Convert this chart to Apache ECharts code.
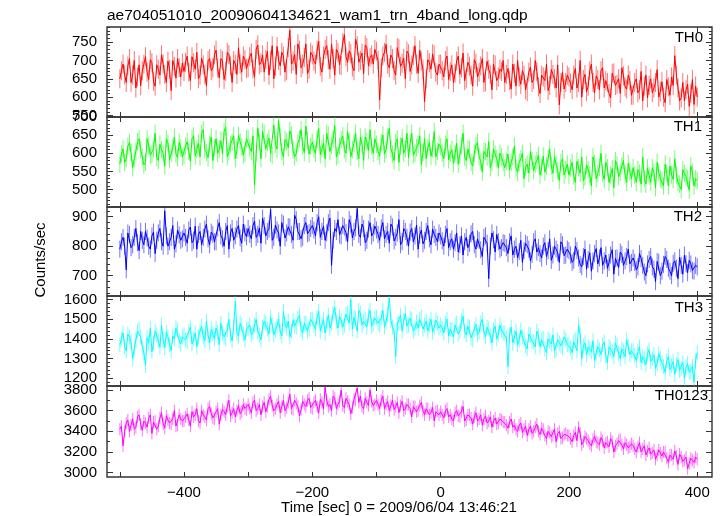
<!DOCTYPE html>
<html><head><meta charset="utf-8">
<script src="https://cdn.jsdelivr.net/npm/echarts@6/dist/echarts.min.js"></script>
<style>html,body{margin:0;padding:0;background:#fff}#c{width:723px;height:516px}</style>
</head><body><div id="c"></div>
<script>
// ---------- data ----------
const times = [
-500,-497.5,-495,-492.5,-490,-487.5,-485,-482.5,-480,-477.5,-475,-472.5,-470,-467.5,-465,-462.5,-460,-457.5,-455,-452.5,
-450,-447.5,-445,-442.5,-440,-437.5,-435,-432.5,-430,-427.5,-425,-422.5,-420,-417.5,-415,-412.5,-410,-407.5,-405,-402.5,
-400,-397.5,-395,-392.5,-390,-387.5,-385,-382.5,-380,-377.5,-375,-372.5,-370,-367.5,-365,-362.5,-360,-357.5,-355,-352.5,
-350,-347.5,-345,-342.5,-340,-337.5,-335,-332.5,-330,-327.5,-325,-322.5,-320,-317.5,-315,-312.5,-310,-307.5,-305,-302.5,
-300,-297.5,-295,-292.5,-290,-287.5,-285,-282.5,-280,-277.5,-275,-272.5,-270,-267.5,-265,-262.5,-260,-257.5,-255,-252.5,
-250,-247.5,-245,-242.5,-240,-237.5,-235,-232.5,-230,-227.5,-225,-222.5,-220,-217.5,-215,-212.5,-210,-207.5,-205,-202.5,
-200,-197.5,-195,-192.5,-190,-187.5,-185,-182.5,-180,-177.5,-175,-172.5,-170,-167.5,-165,-162.5,-160,-157.5,-155,-152.5,
-150,-147.5,-145,-142.5,-140,-137.5,-135,-132.5,-130,-127.5,-125,-122.5,-120,-117.5,-115,-112.5,-110,-107.5,-105,-102.5,
-100,-97.5,-95,-92.5,-90,-87.5,-85,-82.5,-80,-77.5,-75,-72.5,-70,-67.5,-65,-62.5,-60,-57.5,-55,-52.5,
-50,-47.5,-45,-42.5,-40,-37.5,-35,-32.5,-30,-27.5,-25,-22.5,-20,-17.5,-15,-12.5,-10,-7.5,-5,-2.5,
0,2.5,5,7.5,10,12.5,15,17.5,20,22.5,25,27.5,30,32.5,35,37.5,40,42.5,45,47.5,
50,52.5,55,57.5,60,62.5,65,67.5,70,72.5,75,77.5,80,82.5,85,87.5,90,92.5,95,97.5,
100,102.5,105,107.5,110,112.5,115,117.5,120,122.5,125,127.5,130,132.5,135,137.5,140,142.5,145,147.5,
150,152.5,155,157.5,160,162.5,165,167.5,170,172.5,175,177.5,180,182.5,185,187.5,190,192.5,195,197.5,
200,202.5,205,207.5,210,212.5,215,217.5,220,222.5,225,227.5,230,232.5,235,237.5,240,242.5,245,247.5,
250,252.5,255,257.5,260,262.5,265,267.5,270,272.5,275,277.5,280,282.5,285,287.5,290,292.5,295,297.5,
300,302.5,305,307.5,310,312.5,315,317.5,320,322.5,325,327.5,330,332.5,335,337.5,340,342.5,345,347.5,
350,352.5,355,357.5,360,362.5,365,367.5,370,372.5,375,377.5,380,382.5,385,387.5,390,392.5,395,397.5,
400];

const th0 = [
650,672,690,661,640,685,705,640,660,700,625,655,688,631,672,690,710,668,648,702,694,643,630,688,676,660,715,691,662,640,698,676,618,700,684,652,705,680,655,693,
670,695,712,668,645,710,694,676,722,650,660,706,688,662,631,699,705,672,680,715,728,680,652,705,699,648,670,722,716,685,640,700,690,662,735,690,668,712,702,678,
680,710,720,676,655,730,742,688,694,715,668,702,725,660,700,740,650,684,738,700,685,722,712,668,672,735,782,690,698,716,662,745,728,680,690,708,745,664,676,722,
715,698,690,728,752,684,668,712,730,740,702,676,745,705,660,730,722,688,686,748,770,710,695,726,718,682,672,758,740,695,700,720,664,742,735,685,708,715,690,730,
725,700,592,680,712,722,744,690,680,715,705,672,660,735,732,684,692,706,650,725,718,670,688,712,740,690,665,728,698,676,588,650,702,694,676,718,715,668,660,690,
690,672,655,700,712,648,670,688,640,665,698,712,662,680,720,645,650,695,684,660,630,702,692,655,668,685,705,640,642,698,676,662,620,690,688,645,655,676,670,700,
640,662,678,645,622,690,665,630,700,655,635,672,660,620,615,668,682,640,648,700,670,628,610,660,655,645,690,618,632,675,662,650,625,688,579,640,668,622,640,660,
655,638,620,660,678,625,640,700,600,648,662,615,630,672,690,640,612,658,648,620,672,680,625,645,640,610,598,665,666,632,635,650,610,680,658,628,622,660,645,605,
605,640,650,612,620,670,590,630,660,598,632,650,612,625,640,675,600,615,642,600,585,648,628,605,655,632,713,660,625,590,598,640,590,620,635,575,610,648,580,630,
600];

const th1 = [
570,598,612,575,585,620,630,602,560,585,605,632,640,610,590,568,575,640,622,595,598,612,655,588,580,625,610,600,565,640,628,582,600,615,645,598,588,630,615,590,
595,620,632,605,578,640,648,592,610,628,590,655,665,610,602,588,625,645,580,615,640,600,612,635,598,660,672,590,605,625,630,648,585,608,650,632,618,595,600,640,
640,615,605,648,512,600,670,630,585,660,655,612,630,642,600,595,678,625,612,690,645,605,590,638,632,615,662,650,608,590,600,628,640,665,620,602,675,635,598,620,
630,612,600,640,668,596,612,628,585,655,650,605,622,640,676,590,595,620,638,648,610,600,660,632,590,610,628,655,605,585,645,625,580,645,632,608,665,620,600,640,
625,605,592,630,650,598,610,645,668,612,598,580,630,640,575,620,642,600,612,655,588,628,655,595,600,615,625,648,570,602,640,585,615,630,592,612,660,590,605,625,
618,600,585,625,640,582,600,610,572,598,628,570,595,620,655,590,580,612,610,575,565,600,622,630,590,578,548,605,605,590,632,560,575,612,598,585,560,600,590,575,
560,578,598,555,575,590,620,560,548,575,585,600,530,562,570,545,605,580,552,570,580,595,540,560,592,548,565,585,612,565,545,590,570,552,525,575,585,540,555,570,
540,560,575,538,520,578,560,545,590,525,535,568,555,540,510,590,572,530,545,562,600,545,528,575,560,520,540,558,505,580,568,535,548,565,580,540,520,572,550,530,
560,540,520,555,545,515,590,530,515,560,538,520,560,548,505,575,548,530,525,510,570,545,510,565,540,528,585,540,520,515,500,555,545,535,530,498,565,548,510,530,
525];

const th2 = [
790,815,830,800,720,845,840,795,805,830,860,812,785,850,820,805,850,828,800,790,835,848,775,820,845,860,815,800,920,835,800,815,830,870,790,808,855,838,820,825,
845,830,810,855,865,812,820,868,790,840,850,805,830,858,875,825,805,848,840,815,815,862,880,835,825,800,850,870,790,845,860,820,835,858,870,828,810,875,845,832,
860,840,825,870,885,830,840,862,810,895,870,835,850,858,925,820,830,872,855,845,800,880,875,828,845,866,865,840,820,905,890,850,850,825,830,870,880,842,845,860,
870,855,835,880,900,830,850,868,820,845,880,895,735,820,860,850,890,838,835,870,865,846,815,890,875,828,850,862,928,840,830,875,860,812,820,858,880,835,845,868,
855,840,820,862,880,825,840,850,810,875,865,818,830,845,890,805,815,860,850,830,800,848,860,815,835,872,790,838,855,808,820,850,870,825,805,858,840,830,815,845,
835,818,800,840,860,795,815,825,790,812,845,780,805,835,770,815,830,795,810,842,850,805,790,825,820,788,765,830,835,810,690,800,845,822,780,840,815,790,795,812,
810,795,775,815,835,770,790,800,760,782,820,745,785,810,805,790,750,772,815,825,780,795,775,760,800,812,765,785,825,752,770,800,790,778,745,815,805,768,770,790,
785,770,745,752,800,785,760,738,730,765,790,722,755,778,715,750,775,792,740,760,795,735,750,770,725,745,770,788,705,758,760,728,780,772,735,750,765,790,740,745,
760,745,720,730,775,758,735,712,700,740,755,765,730,722,680,748,745,700,715,738,765,755,725,715,700,742,750,725,690,762,735,705,770,740,710,752,740,718,715,735,
730];

const th3 = [
1370,1400,1430,1360,1340,1425,1410,1385,1300,1350,1395,1440,1450,1410,1360,1330,1265,1405,1380,1455,1335,1380,1440,1420,1390,1360,1470,1395,1355,1435,1410,1370,1340,1415,1400,1455,1445,1390,1375,1410,
1420,1395,1385,1440,1460,1375,1400,1430,1360,1410,1440,1465,1410,1390,1490,1420,1380,1450,1425,1400,1455,1435,1370,1480,1430,1410,1400,1445,1500,1420,1390,1460,1590,1430,1415,1480,1470,1425,1395,1450,
1450,1470,1420,1435,1470,1500,1440,1420,1395,1460,1490,1480,1450,1425,1510,1470,1420,1445,1465,1500,1435,1415,1540,1475,1455,1490,1410,1440,1495,1465,1460,1505,1520,1450,1430,1480,1480,1440,1450,1500,
1500,1470,1450,1510,1540,1440,1470,1500,1430,1480,1520,1455,1480,1530,1560,1490,1455,1515,1495,1460,1470,1525,1530,1480,1600,1450,1510,1505,1440,1545,1530,1470,1490,1500,1460,1520,1545,1465,1475,1505,
1510,1480,1470,1505,1545,1460,1490,1525,1610,1495,1460,1440,1310,1475,1480,1520,1440,1490,1530,1465,1470,1505,1500,1440,1455,1485,1455,1500,1510,1450,1470,1490,1440,1470,1500,1435,1460,1495,1480,1455,
1470,1455,1430,1480,1500,1415,1450,1445,1410,1470,1480,1425,1440,1490,1515,1440,1420,1465,1460,1405,1395,1450,1475,1420,1435,1480,1500,1435,1410,1460,1450,1415,1380,1445,1465,1400,1425,1470,1445,1430,
1430,1405,1260,1420,1460,1380,1410,1440,1370,1395,1445,1410,1400,1365,1350,1425,1420,1390,1385,1360,1440,1415,1360,1395,1405,1350,1330,1400,1390,1375,1420,1340,1345,1395,1380,1365,1355,1410,1395,1370,
1370,1355,1330,1385,1395,1340,1470,1420,1300,1365,1380,1320,1360,1350,1335,1390,1290,1330,1360,1345,1320,1370,1385,1315,1280,1360,1350,1335,1310,1380,1370,1325,1300,1350,1340,1310,1395,1360,1320,1340,
1340,1315,1290,1335,1360,1280,1310,1300,1270,1325,1345,1285,1300,1320,1250,1275,1325,1300,1280,1260,1230,1290,1310,1245,1265,1285,1220,1270,1295,1240,1250,1280,1200,1255,1275,1230,1235,1260,1180,1290,
1330];

const th0123 = [
3420,3450,3260,3400,3480,3510,3400,3460,3520,3420,3440,3540,3560,3470,3410,3500,3480,3440,3530,3560,3380,3490,3500,3420,3450,3530,3580,3470,3430,3550,3510,3480,3470,3520,3600,3450,3460,3560,3520,3500,
3500,3540,3570,3510,3450,3590,3540,3560,3620,3500,3480,3600,3560,3540,3510,3620,3640,3570,3530,3520,3590,3620,3470,3560,3610,3590,3560,3640,3700,3550,3580,3620,3540,3600,3650,3570,3590,3660,3620,3610,
3660,3620,3580,3680,3700,3600,3620,3660,3560,3640,3680,3590,3640,3710,3740,3650,3600,3620,3660,3690,3580,3640,3700,3600,3630,3680,3760,3620,3610,3700,3670,3640,3550,3610,3690,3660,3640,3700,3720,3630,
3620,3680,3700,3640,3580,3710,3680,3620,3830,3700,3640,3660,3600,3740,3720,3620,3660,3690,3800,3650,3630,3720,3690,3660,3570,3630,3710,3700,3820,3680,3740,3640,3620,3720,3680,3650,3800,3690,3650,3660,
3700,3660,3620,3700,3740,3620,3660,3690,3600,3650,3700,3610,3640,3680,3580,3650,3690,3600,3620,3660,3660,3620,3540,3640,3640,3590,3600,3650,3680,3600,3560,3620,3620,3560,3580,3630,3500,3590,3600,3560,
3590,3560,3530,3600,3620,3540,3560,3520,3500,3580,3600,3550,3540,3590,3640,3500,3510,3560,3560,3530,3470,3540,3580,3500,3520,3560,3460,3520,3550,3480,3500,3540,3440,3500,3530,3470,3480,3520,3510,3490,
3490,3460,3430,3490,3520,3440,3460,3420,3400,3460,3480,3390,3420,3450,3360,3420,3450,3380,3400,3440,3470,3400,3370,3430,3420,3360,3330,3400,3390,3350,3360,3420,3300,3380,3400,3330,3340,3370,3380,3360,
3360,3330,3300,3360,3390,3310,3440,3380,3270,3300,3350,3330,3310,3280,3260,3320,3350,3300,3290,3270,3340,3310,3240,3290,3300,3250,3330,3300,3200,3260,3280,3310,3320,3270,3230,3290,3270,3240,3250,3280,
3260,3230,3200,3250,3290,3200,3230,3260,3170,3210,3240,3180,3190,3220,3130,3170,3220,3190,3160,3200,3200,3140,3100,3170,3170,3130,3210,3160,3080,3180,3150,3110,3120,3150,3040,3090,3140,3120,3100,3150,
3130];

// typical 1-sigma error bar half-length of each band
const bandErrors = [26, 24, 29, 38, 59];

const panelNames = ['TH0','TH1','TH2','TH3','TH0123'];
const th0Ticks = [550,600,650,700,750];
const th1Ticks = [500,550,600,650,700];
const th2Ticks = [700,800,900];
const th3Ticks = [1200,1300,1400,1500,1600];
const th0123Ticks = [3000,3200,3400,3600,3800];
const xTickLabels = [-400,-200,0,200,400];
const titleText = 'ae704051010_20090604134621_wam1_trn_4band_long.qdp';
const xName = 'Time [sec] 0 = 2009/06/04 13:46:21';
const yName = 'Counts/sec';

// ---------- layout / style ----------
const FONT = '"Liberation Sans", Arial, Helvetica, sans-serif';
const seriesData = [th0, th1, th2, th3, th0123];
const majorTicks = [th0Ticks, th1Ticks, th2Ticks, th3Ticks, th0123Ticks];
const colors = ['#ff0000','#00ff00','#0000ff','#00ffff','#ff00ff'];
const errColors = ['rgba(255,0,0,0.55)','rgba(0,255,0,0.55)','rgba(0,0,255,0.55)','rgba(0,255,255,0.55)','rgba(255,0,255,0.55)'];
const yMin = [546, 452, 631, 1161, 2958];
const yMax = [791, 700, 933, 1618, 3839];
const minorStep = [10, 10, 20, 20, 100];
const tops = [27, 117, 207, 296, 386];
const heights = [90, 90, 89, 90, 91];
const labelRight = [703, 702, 702, 703, 708];
const labelY = [38, 127, 217, 308, 396];
const X_MIN = -520, X_MAX = 423;

const xMinorTicks = [];
for (let v = -500; v <= 400; v += 100) xMinorTicks.push(v);

function minorVals(i) {
  const out = [];
  const s = minorStep[i];
  for (let v = Math.ceil(yMin[i] / s) * s; v <= yMax[i]; v += s) out.push(v);
  return out;
}

const grids = [], xAxes = [], yAxes = [], series = [], graphics = [];
for (let i = 0; i < 5; i++) {
  grids.push({left: 107, width: 605, top: tops[i], height: heights[i], show: true,
    borderColor: '#333', borderWidth: 1.4, backgroundColor: 'transparent'});
  ['bottom', 'top'].forEach(pos => {
    xAxes.push({gridIndex: i, type: 'value', min: X_MIN, max: X_MAX, position: pos,
      axisLine: {show: false, onZero: false}, splitLine: {show: false},
      axisTick: {show: true, inside: true, length: 5, customValues: xMinorTicks, lineStyle: {color: '#333', width: 1}},
      axisLabel: {show: (i === 4 && pos === 'bottom'), customValues: xTickLabels, fontSize: 15, color: '#000',
        fontFamily: FONT, margin: 8, formatter: v => (v < 0 ? '\u2212' + (-v) : String(v))}});
  });
  ['left', 'right'].forEach(pos => {
    yAxes.push({gridIndex: i, type: 'value', min: yMin[i], max: yMax[i], position: pos,
      axisLine: {show: false, onZero: false}, splitLine: {show: false},
      axisTick: {show: true, inside: true, length: 6, customValues: majorTicks[i], lineStyle: {color: '#333', width: 1}},
      axisLabel: {show: pos === 'left', customValues: majorTicks[i], fontSize: 15, color: '#000', fontFamily: FONT,
        margin: 10, formatter: v => String(v)}});
    yAxes.push({gridIndex: i, type: 'value', min: yMin[i], max: yMax[i], position: pos,
      axisLine: {show: false, onZero: false}, splitLine: {show: false},
      axisTick: {show: true, inside: true, length: 3, customValues: minorVals(i), lineStyle: {color: '#333', width: 1}},
      axisLabel: {show: false}});
  });
  const pts = times.map((t, k) => [t, seriesData[i][k], bandErrors[i]]);
  const ec = errColors[i];
  series.push({type: 'custom', xAxisIndex: 2 * i, yAxisIndex: 4 * i, data: pts, clip: true, z: 1,
    silent: true, animation: false,
    renderItem: (params, api) => {
      const x = api.value(0), y = api.value(1), e = api.value(2);
      const a = api.coord([x, y - e]), b = api.coord([x, y + e]);
      return {type: 'line', shape: {x1: a[0], y1: a[1], x2: b[0], y2: b[1]}, style: {stroke: ec, lineWidth: 1}};
    }});
  series.push({type: 'line', xAxisIndex: 2 * i, yAxisIndex: 4 * i,
    data: pts.map(p => [p[0], p[1]]),
    showSymbol: false, symbol: 'none', clip: true, animation: false, sampling: null,
    lineStyle: {color: colors[i], width: 1}, itemStyle: {color: colors[i]}, z: 2});
  graphics.push({type: 'text', z: 10, style: {x: labelRight[i], y: labelY[i], text: panelNames[i],
    font: '15px ' + FONT, fill: '#000', align: 'right', verticalAlign: 'middle'}});
}
graphics.push({type: 'text', z: 10, style: {x: 107, y: 16, text: titleText, font: '15.5px ' + FONT,
  fill: '#000', align: 'left', verticalAlign: 'middle'}});
graphics.push({type: 'text', z: 10, style: {x: 399, y: 508, text: xName, font: '15px ' + FONT,
  fill: '#000', align: 'center', verticalAlign: 'middle'}});
graphics.push({type: 'text', z: 10, x: 41, y: 260, rotation: Math.PI / 2,
  style: {x: 0, y: 0, text: yName, font: '15px ' + FONT, fill: '#000', align: 'center', verticalAlign: 'middle'}});

const chart = echarts.init(document.getElementById('c'), null, {renderer: 'canvas'});
chart.setOption({animation: false, backgroundColor: '#fff',
  grid: grids, xAxis: xAxes, yAxis: yAxes, series: series, graphic: graphics});
</script></body></html>
